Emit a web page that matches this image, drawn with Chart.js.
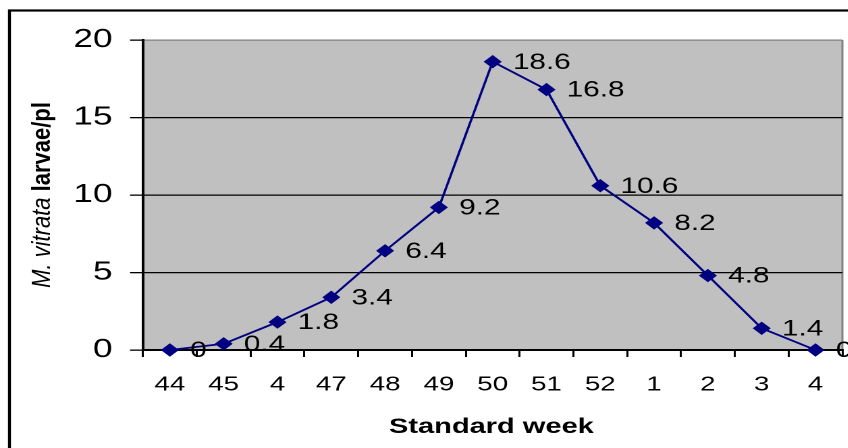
<!DOCTYPE html>
<html>
<head>
<meta charset="utf-8">
<title>M. vitrata larvae per plant by standard week</title>
<script src="https://cdn.jsdelivr.net/npm/chart.js@4/dist/chart.umd.min.js"></script>
<style>
  html, body { margin: 0; padding: 0; background: #fff; overflow: hidden; }
  /* the chart is laid out narrow and widened horizontally, like the source sheet */
  #wrap { width: 631px; height: 448px; transform: scaleX(1.35); transform-origin: 0 0; }
</style>
</head>
<body>
<div id="wrap"><canvas id="c" width="631" height="448"></canvas></div>
<script>
// Standard weeks (labels as printed on the axis)
const weeks = ['44', '45', '4', '47', '48', '49', '50', '51', '52', '1', '2', '3', '4'];
// Mean larvae per plant
const larvae = [0, 0.4, 1.8, 3.4, 6.4, 9.2, 18.6, 16.8, 10.6, 8.2, 4.8, 1.4, 0];
// Y axis ticks
const yTicks = [0, 5, 10, 15, 20];

const xTitle = 'Standard week';
const yTitleSpecies = 'M. vitrata ';
const yTitleUnit = 'larvae/pl';

const FAMILY = '"Liberation Sans", Arial, Helvetica, sans-serif';
Chart.defaults.font.family = FAMILY;
Chart.defaults.color = '#000';

// white page, outer frame and grey plot area
const plotFrame = {
  id: 'plotFrame',
  beforeDraw(chart) {
    const { ctx, chartArea: a } = chart;
    ctx.save();
    ctx.fillStyle = '#fff';
    ctx.fillRect(0, 0, chart.width, chart.height);
    ctx.strokeStyle = '#000';
    ctx.lineWidth = 2.2;
    ctx.strokeRect(7, 10.5, chart.width + 40, chart.height + 40);
    ctx.fillStyle = '#c0c0c0';
    ctx.fillRect(a.left, a.top, a.right - a.left, a.bottom - a.top);
    ctx.strokeStyle = '#808080';
    ctx.lineWidth = 1.5;
    ctx.beginPath();
    ctx.moveTo(a.right, a.top);
    ctx.lineTo(a.right, a.bottom);
    ctx.stroke();
    ctx.restore();
  }
};

// value printed to the right of each point
const valueLabels = {
  id: 'valueLabels',
  afterDatasetsDraw(chart) {
    const { ctx } = chart;
    const meta = chart.getDatasetMeta(0);
    ctx.save();
    ctx.font = '22px ' + FAMILY;
    ctx.fillStyle = '#000';
    ctx.textAlign = 'left';
    ctx.textBaseline = 'middle';
    meta.data.forEach((pt, i) => {
      ctx.fillText(String(larvae[i]), pt.x + 15, pt.y + 1);
    });
    ctx.restore();
  }
};

// axis titles; the y title mixes an italic species name with a bold unit
const axisTitles = {
  id: 'axisTitles',
  afterDraw(chart) {
    const { ctx } = chart;
    ctx.save();
    ctx.fillStyle = '#000';
    ctx.font = 'bold 21.5px ' + FAMILY;
    ctx.textAlign = 'center';
    ctx.textBaseline = 'alphabetic';
    ctx.fillText(xTitle, 364, 433);

    ctx.translate(31.5, 195);
    ctx.scale(0.88, 1);
    ctx.rotate(-Math.PI / 2);
    const f1 = 'italic 22px ' + FAMILY;
    const f2 = 'bold 22px ' + FAMILY;
    ctx.font = f1;
    const w1 = ctx.measureText(yTitleSpecies).width;
    ctx.font = f2;
    const w2 = ctx.measureText(yTitleUnit).width;
    const x0 = -(w1 + w2) / 2;
    ctx.textAlign = 'left';
    ctx.textBaseline = 'middle';
    ctx.font = f1;
    ctx.fillText(yTitleSpecies, x0, 0);
    ctx.font = f2;
    ctx.fillText(yTitleUnit, x0 + w1, 0);
    ctx.restore();
  }
};

new Chart(document.getElementById('c'), {
  type: 'line',
  data: {
    labels: weeks,
    datasets: [{
      data: larvae,
      borderColor: '#000080',
      borderWidth: 1.8,
      tension: 0,
      clip: false,
      pointStyle: 'rectRot',
      pointRadius: 6,
      pointBackgroundColor: '#000080',
      pointBorderColor: '#000080',
      pointBorderWidth: 1
    }]
  },
  options: {
    responsive: false,
    devicePixelRatio: 2,
    animation: false,
    layout: { padding: { top: 40, right: 3.6, left: 0, bottom: 0 } },
    plugins: { legend: { display: false }, tooltip: { enabled: false } },
    scales: {
      x: {
        type: 'category',
        offset: true,
        grid: {
          offset: true,
          drawOnChartArea: false,
          drawTicks: true,
          tickLength: 7,
          tickColor: '#000',
          tickWidth: 1.5,
          lineWidth: 1.5,
          color: '#000'
        },
        border: { color: '#000', width: 2 },
        ticks: {
          color: '#000',
          font: { size: 20.5 },
          padding: 15.5,
          maxRotation: 0,
          autoSkip: false
        },
        afterFit(scale) {
          scale.height = 98;
          scale.paddingLeft = 0;
          scale.paddingRight = 0;
        }
      },
      y: {
        min: yTicks[0],
        max: yTicks[yTicks.length - 1],
        afterBuildTicks(scale) { scale.ticks = yTicks.map(v => ({ value: v })); },
        ticks: { color: '#000', font: { size: 26 }, padding: 13 },
        grid: {
          color: (c) => (c.tick && c.tick.value === 20 ? '#808080' : '#000'),
          lineWidth: 1.3,
          tickLength: 9.6,
          tickColor: '#000',
          tickWidth: 1.3
        },
        border: { color: '#000', width: 2 },
        afterFit(scale) { scale.width = 105.9; }
      }
    }
  },
  plugins: [plotFrame, valueLabels, axisTitles]
});
</script>
</body>
</html>
